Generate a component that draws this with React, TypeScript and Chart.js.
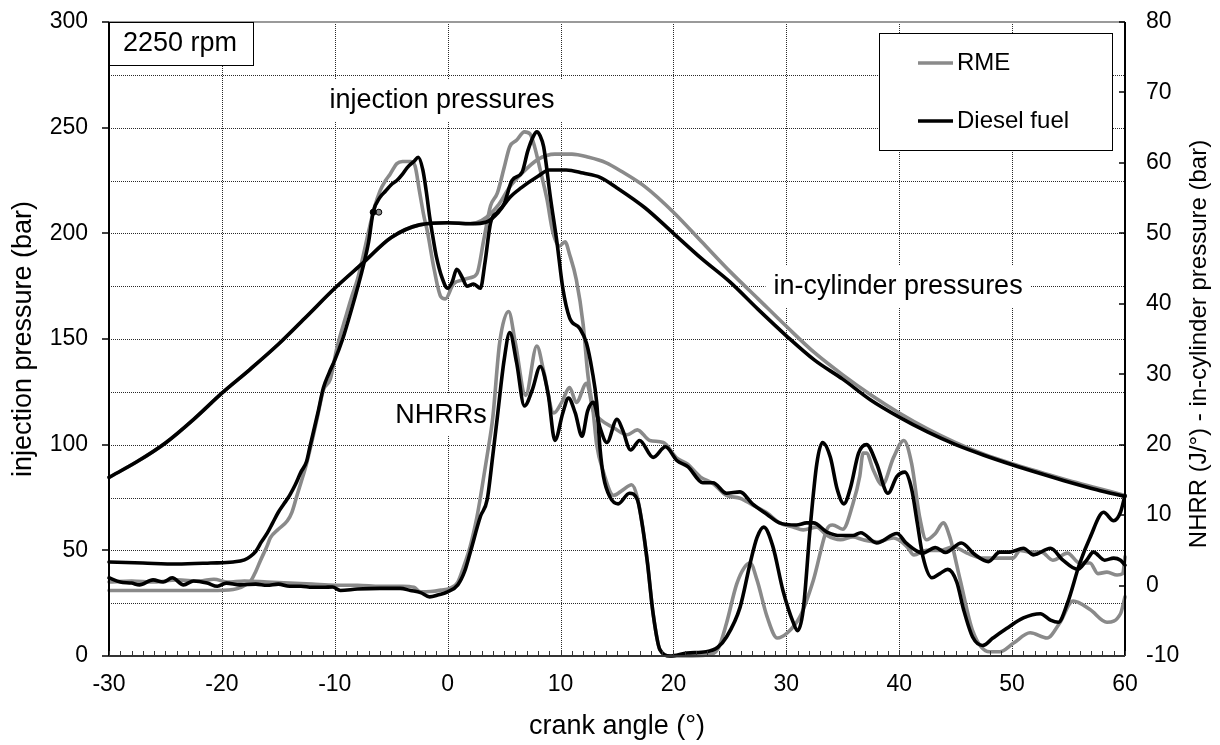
import React, { useEffect, useRef } from "react";
import { Chart, registerables } from "chart.js";

Chart.register(...registerables);

const FONT = "'Liberation Sans', Arial, Helvetica, sans-serif";
const GRAY = "#8a8a8a";
const BLACK = "#000000";

// axis ranges / ticks
const X_MIN = -30;
const X_MAX = 60;
const X_STEP = 10;
const LEFT_MIN = 0;
const LEFT_MAX = 300;
const LEFT_STEP = 50;
const LEFT_GRID_STEP = 25;
const RIGHT_MIN = -10;
const RIGHT_MAX = 80;
const RIGHT_STEP = 10;

// injection pressure (bar) vs crank angle (°) — left axis
const rmeInjection: [number, number][] = [
  [-30, 31], [-25, 31], [-21, 31], [-19, 31.5], [-18.3, 32.5], [-17.8, 34], [-17.5, 35], [-17, 40],
  [-16.6, 45], [-16, 52], [-15.7, 56], [-15, 60], [-14.2, 64], [-13.8, 68], [-13.4, 75], [-13, 82],
  [-12.5, 91], [-12, 102], [-11.5, 114], [-11, 126], [-10.4, 131], [-9.8, 146], [-9, 161], [-8.5, 170],
  [-8, 178], [-7.5, 189], [-7, 201], [-6.5, 212], [-6, 220], [-5.5, 225], [-5.1, 228], [-4.5, 233],
  [-4, 234], [-3.3, 234], [-2.9, 232], [-2.5, 220], [-2.1, 208], [-1.8, 201], [-1.2, 183], [-0.6, 170],
  [-0.2, 169], [0.5, 176], [1.4, 178], [2, 179], [2.6, 181], [3.2, 197], [3.8, 213], [4.4, 219],
  [5, 231], [5.5, 241], [6.1, 244], [6.8, 248], [7.3, 247], [7.7, 241], [8.2, 230], [8.8, 216],
  [9.3, 201], [9.9, 194], [10.4, 196], [10.8, 190], [11.4, 178], [12, 157], [12.4, 134], [12.9, 115],
  [13.2, 100], [13.8, 87], [14.7, 76], [15.5, 78.5], [16.3, 81], [16.8, 75], [17.3, 60], [17.7, 44],
  [18.2, 20], [18.8, 3], [19.7, 0], [21, 0], [23, 0.5], [24, 4], [24.7, 15.5], [25.6, 34],
  [26.3, 42], [26.8, 44], [27.4, 36], [28.3, 18.5], [29.2, 8.5], [30.1, 11], [31.2, 18.5], [32.4, 36],
  [33.6, 60], [34.1, 62], [35, 60], [35.9, 72], [36.5, 85], [36.8, 96], [37.1, 96], [37.7, 88],
  [38.5, 81], [39.5, 94], [40.4, 102], [41.1, 91], [41.8, 66], [42.4, 55], [43.2, 58], [43.9, 63],
  [44.5, 56], [45.4, 36], [46.5, 12], [48, 2], [48.9, 2], [50.1, 6], [51.6, 11], [53.1, 8.5],
  [54.2, 15.5], [55.4, 26], [56.9, 22], [58.4, 16], [59.6, 20], [60, 28],
];

const dieselInjection: [number, number][] = [
  [-30, 44.5], [-27, 44], [-24, 43.5], [-21, 44], [-19, 44.5], [-18, 45.5], [-17.5, 47], [-17, 49.5],
  [-16.5, 54], [-16, 58], [-15.5, 63], [-15, 68], [-14.5, 72], [-14, 76], [-13.5, 81], [-13, 87],
  [-12.5, 92], [-12.2, 99], [-11.5, 115], [-11, 127], [-10.5, 134], [-10, 140], [-9.3, 150], [-8.9, 157],
  [-8.2, 170], [-7.5, 184], [-7, 196], [-6.6, 210], [-6, 217], [-5.5, 220], [-5, 223], [-4.5, 225],
  [-4, 228], [-3.6, 231], [-3, 234], [-2.6, 236], [-2.2, 230], [-1.9, 220], [-1.6, 208], [-1.3, 198],
  [-1, 189], [-0.5, 179], [0, 174], [0.4, 177], [0.8, 183], [1.3, 179], [1.7, 175], [2.3, 176],
  [2.9, 174], [3.3, 186], [3.8, 205], [4.4, 210], [5, 214], [5.7, 225], [6.6, 229], [7.1, 239],
  [7.6, 246], [7.9, 248], [8.2, 246], [8.5, 241], [9.1, 217], [9.7, 195], [10.2, 174], [10.8, 160],
  [11.7, 155], [12.3, 148], [12.8, 135], [13.2, 120], [13.5, 98], [13.8, 85], [14.4, 75], [15.1, 72],
  [16.1, 77], [16.8, 74], [17.3, 60], [17.7, 44], [18.2, 20], [18.8, 3], [19.7, 0], [21.2, 1.4],
  [22.9, 2], [23.9, 4], [24.7, 9], [25.9, 23], [26.8, 44], [27.4, 56], [28, 61], [28.8, 52],
  [29.7, 31], [30.6, 16], [31, 12], [31.5, 22], [32.1, 60], [32.7, 91], [33.2, 101], [33.9, 94],
  [34.5, 79], [35.1, 72], [35.7, 80], [36.4, 96], [37.1, 100], [38, 91], [39, 77], [39.8, 85],
  [40.5, 87], [41.1, 79], [41.6, 63], [42.1, 47], [42.9, 37], [43.6, 39], [44.3, 41], [45.1, 35],
  [45.7, 22], [46.5, 9], [47.4, 5], [48.3, 8.5], [49.5, 13], [51, 18], [52.5, 20], [53.4, 17],
  [54.1, 16], [54.9, 25], [56, 44], [56.9, 56], [58.1, 68], [59, 64], [59.6, 68], [60, 76],
];

// start-of-injection markers (bar) — left axis
const rmeMarker: [number, number][] = [[-6.1, 210]];
const dieselMarker: [number, number][] = [[-6.6, 210]];

// in-cylinder pressure (bar) — right axis
const rmeCylinder: [number, number][] = [
  [-30, 15.35], [-27.5, 17.6], [-25, 20.24], [-22.5, 23.6], [-20, 27.32], [-17.5, 30.7], [-15, 34.25],
  [-12.5, 38.2], [-10, 42.2], [-7.5, 45.8], [-5, 49.4], [-2.5, 51.2], [0, 51.5], [2, 51.4],
  [3, 51.8], [4.5, 54.05], [5.5, 56.6], [6.5, 58.4], [8, 60.5], [9.5, 61.25], [11, 61.25],
  [12.5, 60.8], [14, 60.05], [15.5, 58.7], [17.5, 56.6], [20, 53], [22.5, 48.8], [25, 44.6],
  [27.5, 40.7], [30, 36.8], [32.5, 33.05], [35, 29.9], [37.5, 27.05], [40, 24.5], [42.5, 22.25],
  [45, 20.3], [47.5, 18.65], [50, 17.3], [52.5, 16.1], [55, 14.9], [57.5, 13.85], [60, 12.8],
];

const dieselCylinder: [number, number][] = [
  [-30, 15.35], [-27.5, 17.6], [-25, 20.24], [-22.5, 23.6], [-20, 27.32], [-17.5, 30.7], [-15, 34.25],
  [-12.5, 38.2], [-10, 42.2], [-7.5, 45.8], [-5, 49.4], [-2.5, 51.2], [0, 51.5], [2, 51.35],
  [3.5, 51.65], [4.5, 53], [5.5, 55.1], [6.5, 56.45], [8, 58.1], [9, 59], [10.5, 59],
  [12, 58.55], [13.5, 57.95], [15, 56.45], [17.5, 53.6], [20, 50], [22.5, 46.4], [25, 43.1],
  [27.5, 39.2], [30, 35.45], [32.5, 32], [35, 29.3], [37.5, 26.3], [40, 23.9], [42.5, 21.8],
  [45, 20], [47.5, 18.5], [50, 17.15], [52.5, 15.9], [55, 14.7], [57.5, 13.6], [60, 12.65],
];

// net heat release rate (J/°) — right axis
const rmeNhrr: [number, number][] = [
  [-30, 0.5], [-28, 0.65], [-26, 0.5], [-24, 0.8], [-22, 0.65], [-20.7, 0.9], [-19.5, 0.5], [-18, 0.65],
  [-16, 0.5], [-14, 0.35], [-12, 0.2], [-10, 0.05], [-8, 0.05], [-6, -0.1], [-4, -0.1], [-3, -0.25],
  [-2.4, -0.9], [-1.5, -0.85], [-0.6, -0.65], [0.2, -0.4], [0.9, 0.5], [1.4, 2.6], [2, 5.6], [2.6, 9.8],
  [2.9, 12.5], [3.5, 18.5], [4, 23.9], [4.6, 34.4], [5.4, 38.9], [6, 34.4], [6.9, 27], [7.9, 34],
  [8.5, 30.5], [9.4, 24.5], [10.1, 26], [10.8, 28.1], [11.4, 26], [12.3, 28.7], [12.9, 24.8], [13.5, 23.6],
  [14.7, 22.4], [15.9, 21.4], [16.8, 22.1], [17.9, 20.6], [19.1, 20.3], [20.3, 18.1], [21.2, 17.3], [22.4, 15.4],
  [23.5, 14.5], [24.7, 12.8], [25.9, 12.4], [27, 11.45], [28.3, 10.3], [29.4, 8.9], [30.6, 8.3], [31.5, 7.9],
  [32.7, 8.3], [33.6, 7.1], [34.8, 6.5], [35.9, 6.9], [36.8, 6.5], [38, 6.2], [39.5, 6.75], [40.7, 5.5],
  [41.3, 4.35], [42.4, 5], [43.6, 5], [44.8, 5.5], [46, 4.6], [47.4, 3.9], [48.9, 3.9], [50.1, 3.9],
  [50.7, 5], [51.6, 4.75], [52.6, 4.75], [53.6, 3.6], [54.9, 4.6], [56, 3.2], [56.9, 3.2], [57.6, 1.7],
  [58.4, 1.9], [59.3, 1.5], [59.8, 1.7], [60, 4.1],
];

const dieselNhrr: [number, number][] = [
  [-30, 1.1], [-29, 0.5], [-28, 0.35], [-27.3, 0.1], [-26.1, 0.8], [-25.2, 0.5], [-24.4, 1.1], [-23.4, 0.1],
  [-22.5, 0.65], [-21.3, 0.35], [-20.4, -0.1], [-19.6, 0.35], [-18.4, 0.1], [-17, 0.2], [-16, 0.05], [-15, 0.2],
  [-14, -0.1], [-13, -0.1], [-12, -0.25], [-11, -0.25], [-10.2, -0.2], [-9.5, -0.7], [-8, -0.5], [-6, -0.4],
  [-4.2, -0.4], [-3.3, -0.7], [-2.4, -1], [-1.6, -1.6], [-0.8, -1.3], [0, -0.9], [0.9, 0.1], [1.5, 2],
  [2, 4.7], [2.9, 9.8], [3.5, 12.2], [4, 18.5], [4.4, 23.9], [5, 32], [5.5, 35.9], [6.1, 31.7],
  [6.8, 25.5], [7.5, 27.8], [8.2, 31.1], [8.9, 27.2], [9.5, 20.6], [10.2, 24.5], [10.7, 26.6], [11.3, 24.5],
  [11.9, 21.2], [12.4, 24.8], [12.9, 26], [13.5, 22.4], [14.1, 20.3], [15, 23.6], [15.5, 22.1], [16.2, 19.25],
  [17, 20.6], [18.2, 18.2], [19.3, 19.7], [20.3, 17.75], [21.3, 16.85], [22.6, 14.6], [23.5, 14.6], [24.7, 13.1],
  [25.9, 13.3], [27, 11.6], [28.3, 10.1], [29.4, 8.9], [30.9, 8.6], [31.8, 8.9], [32.4, 8.9], [33.6, 7.6],
  [34.8, 7.1], [35.9, 7.1], [36.6, 7.5], [38, 6.05], [39.8, 7.4], [40.6, 6.05], [42.1, 4.6], [43.2, 5.4],
  [44.1, 4.7], [45.5, 6.05], [46.7, 4.4], [47.9, 3.4], [48.9, 4.75], [49.8, 4.75], [51, 5.3], [51.9, 4.35],
  [53.4, 5.3], [54.5, 3.6], [55.8, 2.3], [56.6, 3.6], [57.2, 4.75], [58.2, 3.6], [59, 3.9], [59.6, 3.6],
  [60, 2.9],
];

// legend entries
const legendLabels = ["RME", "Diesel fuel"];
const legendColors = [GRAY, BLACK];

// text annotations, anchored in data coordinates (left axis)
const annotations = [
  { text: "injection pressures", x: -0.5, y: 263 },
  { text: "in-cylinder pressures", x: 39.9, y: 174.6 },
  { text: "NHRRs", x: -0.6, y: 114 },
];
const speedLabel = "2250 rpm";
const rightTitle = "NHRR (J/°) - in-cylinder pressure (bar)";

const pts = (arr: [number, number][]) => arr.map(([x, y]) => ({ x, y }));

const lineDs = (label: string, data: [number, number][], color: string, axis: string, order: number) => ({
  type: "line" as const,
  label,
  data: pts(data),
  borderColor: color,
  backgroundColor: color,
  borderWidth: 3.6,
  pointRadius: 0,
  pointHoverRadius: 0,
  fill: false,
  yAxisID: axis,
  cubicInterpolationMode: "monotone" as const,
  borderJoinStyle: "round" as const,
  borderCapStyle: "round" as const,
  clip: 4,
  order,
});

const markerDs = (label: string, data: [number, number][], color: string, order: number) => ({
  type: "line" as const,
  label,
  data: pts(data),
  showLine: false,
  pointRadius: 3,
  pointBorderWidth: 1,
  pointBorderColor: BLACK,
  pointBackgroundColor: color,
  borderColor: color,
  backgroundColor: color,
  yAxisID: "y",
  order,
});

const decorPlugin = {
  id: "decor",
  beforeDatasetsDraw(chart: any) {
    const { ctx, chartArea: a, scales } = chart;
    const sx = scales.x;
    const sy = scales.y;
    ctx.save();
    // dotted grid
    ctx.strokeStyle = "#2a2a2a";
    ctx.lineWidth = 1;
    ctx.setLineDash([1, 1]);
    for (let v = X_MIN + X_STEP; v < X_MAX; v += X_STEP) {
      const px = Math.round(sx.getPixelForValue(v)) + 0.5;
      ctx.beginPath();
      ctx.moveTo(px, a.top);
      ctx.lineTo(px, a.bottom);
      ctx.stroke();
    }
    for (let v = LEFT_MIN + LEFT_GRID_STEP; v < LEFT_MAX; v += LEFT_GRID_STEP) {
      const py = Math.round(sy.getPixelForValue(v)) + 0.5;
      ctx.beginPath();
      ctx.moveTo(a.left, py);
      ctx.lineTo(a.right, py);
      ctx.stroke();
    }
    ctx.setLineDash([]);
    // top border (gray)
    ctx.strokeStyle = "#9a9a9a";
    ctx.lineWidth = 2;
    ctx.beginPath();
    ctx.moveTo(a.left, a.top);
    ctx.lineTo(a.right, a.top);
    ctx.stroke();

    // annotation labels with white background
    ctx.font = `27px ${FONT}`;
    ctx.textBaseline = "middle";
    ctx.textAlign = "center";
    for (const an of annotations) {
      const cx = sx.getPixelForValue(an.x);
      const cy = sy.getPixelForValue(an.y);
      const w = ctx.measureText(an.text).width;
      ctx.fillStyle = "#ffffff";
      ctx.fillRect(cx - w / 2 - 8, cy - 21, w + 16, 42);
      ctx.fillStyle = "#000000";
      ctx.fillText(an.text, cx, cy);
    }

    // speed box
    ctx.fillStyle = "#ffffff";
    ctx.fillRect(a.left, a.top, 144, 43);
    ctx.strokeStyle = "#000000";
    ctx.lineWidth = 1;
    ctx.strokeRect(a.left - 0.5, a.top + 0.5, 145, 43);
    ctx.fillStyle = "#000000";
    ctx.textAlign = "left";
    ctx.fillText(speedLabel, a.left + 14, a.top + 22);

    // legend
    const lx = a.right - 246;
    const ly = a.top + 11;
    ctx.fillStyle = "#ffffff";
    ctx.fillRect(lx, ly, 233, 117);
    ctx.strokeStyle = "#000000";
    ctx.lineWidth = 1;
    ctx.strokeRect(lx + 0.5, ly + 0.5, 233, 117);
    ctx.font = `24px ${FONT}`;
    legendLabels.forEach((lab, i) => {
      const yy = ly + 30 + i * 58;
      ctx.strokeStyle = legendColors[i];
      ctx.lineWidth = 3.5;
      ctx.beginPath();
      ctx.moveTo(lx + 39, yy);
      ctx.lineTo(lx + 74, yy);
      ctx.stroke();
      ctx.fillStyle = "#000000";
      ctx.fillText(lab, lx + 78, yy);
    });
    ctx.restore();
  },
  afterDatasetsDraw(chart: any) {
    const { ctx, chartArea: a, scales } = chart;
    const sx = scales.x;
    const sy = scales.y;
    const sy1 = scales.y1;
    ctx.save();
    // left axis
    ctx.strokeStyle = "#000000";
    ctx.lineWidth = 2;
    ctx.beginPath();
    ctx.moveTo(a.left, a.top);
    ctx.lineTo(a.left, a.bottom);
    ctx.stroke();
    ctx.lineWidth = 1.5;
    for (let v = LEFT_MIN; v <= LEFT_MAX; v += LEFT_STEP) {
      const py = Math.round(sy.getPixelForValue(v));
      ctx.beginPath();
      ctx.moveTo(a.left - 7, py);
      ctx.lineTo(a.left, py);
      ctx.stroke();
    }
    // right axis
    ctx.lineWidth = 2;
    ctx.beginPath();
    ctx.moveTo(a.right, a.top);
    ctx.lineTo(a.right, a.bottom);
    ctx.stroke();
    ctx.lineWidth = 1.5;
    for (let v = RIGHT_MIN; v <= RIGHT_MAX; v += RIGHT_STEP) {
      const py = Math.round(sy1.getPixelForValue(v));
      ctx.beginPath();
      ctx.moveTo(a.right - 6, py);
      ctx.lineTo(a.right, py);
      ctx.stroke();
    }
    // bottom axis with minor ticks every 1°
    ctx.strokeStyle = "#333333";
    ctx.lineWidth = 2;
    ctx.beginPath();
    ctx.moveTo(a.left, a.bottom);
    ctx.lineTo(a.right, a.bottom);
    ctx.stroke();
    ctx.lineWidth = 1;
    for (let v = X_MIN; v <= X_MAX; v += 1) {
      const px = Math.round(sx.getPixelForValue(v)) + 0.5;
      ctx.beginPath();
      ctx.moveTo(px, a.bottom);
      ctx.lineTo(px, a.bottom - 5);
      ctx.stroke();
    }
    // right axis title (reads bottom-to-top)
    ctx.fillStyle = "#000000";
    ctx.font = `24px ${FONT}`;
    ctx.textAlign = "center";
    ctx.textBaseline = "middle";
    ctx.translate(a.right + 74, (a.top + a.bottom) / 2 + 5);
    ctx.rotate(-Math.PI / 2);
    ctx.fillText(rightTitle, 0, 0);
    ctx.restore();
  },
};

export default function App() {
  const ref = useRef<HTMLCanvasElement | null>(null);
  useEffect(() => {
    if (!ref.current) return;
    Chart.defaults.font.family = FONT;
    Chart.defaults.color = "#000000";
    const chart = new Chart(ref.current, {
      type: "line",
      data: {
        datasets: [
          markerDs("Diesel SOI", dieselMarker, BLACK, 0),
          markerDs("RME SOI", rmeMarker, GRAY, 0),
          lineDs("Diesel fuel injection pressure", dieselInjection, BLACK, "y", 1),
          lineDs("Diesel fuel in-cylinder pressure", dieselCylinder, BLACK, "y1", 1),
          lineDs("Diesel fuel NHRR", dieselNhrr, BLACK, "y1", 1),
          lineDs("RME injection pressure", rmeInjection, GRAY, "y", 2),
          lineDs("RME in-cylinder pressure", rmeCylinder, GRAY, "y1", 2),
          lineDs("RME NHRR", rmeNhrr, GRAY, "y1", 2),
        ] as any,
      },
      options: {
        responsive: false,
        animation: false,
        devicePixelRatio: 1,
        events: [],
        layout: { padding: { top: 22, left: 0, right: 0, bottom: 0 } },
        plugins: {
          legend: { display: false },
          tooltip: { enabled: false },
          title: { display: false },
        },
        scales: {
          x: {
            type: "linear",
            position: "bottom",
            min: X_MIN,
            max: X_MAX,
            ticks: { stepSize: X_STEP, padding: 15, maxRotation: 0, font: { size: 23 }, color: "#000" },
            grid: { display: false, drawTicks: false },
            border: { display: false },
            title: {
              display: true,
              text: "crank angle (°)",
              font: { size: 27 },
              color: "#000",
              padding: { top: 0, bottom: 2 },
            },
            afterFit: (s: any) => {
              s.height = 89;
            },
          },
          y: {
            type: "linear",
            position: "left",
            min: LEFT_MIN,
            max: LEFT_MAX,
            ticks: { stepSize: LEFT_STEP, padding: 21, font: { size: 23 }, color: "#000" },
            grid: { display: false, drawTicks: false },
            border: { display: false },
            title: {
              display: true,
              text: "injection pressure (bar)",
              font: { size: 27 },
              color: "#000",
              padding: { top: 7, bottom: 0 },
            },
            afterFit: (s: any) => {
              s.width = 109;
              s.paddingTop = 0;
              s.paddingBottom = 0;
            },
          },
          y1: {
            type: "linear",
            position: "right",
            min: RIGHT_MIN,
            max: RIGHT_MAX,
            ticks: { stepSize: RIGHT_STEP, padding: 21, font: { size: 23 }, color: "#000" },
            grid: { display: false, drawTicks: false },
            border: { display: false },
            afterFit: (s: any) => {
              s.width = 95;
              s.paddingTop = 0;
              s.paddingBottom = 0;
            },
          },
        },
      } as any,
      plugins: [decorPlugin],
    });
    return () => chart.destroy();
  }, []);
  return (
    <div style={{ position: "fixed", left: 0, top: 0, width: 1220, height: 745, background: "#fff" }}>
      <canvas ref={ref} width={1220} height={745} style={{ display: "block", width: 1220, height: 745 }} />
    </div>
  );
}
